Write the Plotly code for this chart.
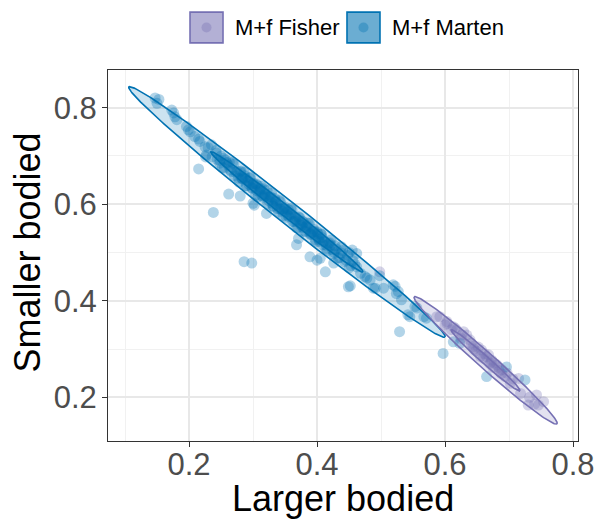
import numpy as np
import plotly.graph_objects as go

# ---------------- data ----------------
groups = ["M+f Fisher", "M+f Marten"]

marten_x = [
    0.147, 0.150, 0.153, 0.173, 0.176, 0.178, 0.181, 0.196, 0.199, 0.202, 0.209, 0.215, 0.217, 0.225, 0.227,
    0.226, 0.235, 0.243, 0.254, 0.248,
    0.215, 0.238, 0.262, 0.286, 0.298,
    0.280, 0.300, 0.321, 0.302, 0.371, 0.368, 0.389, 0.400, 0.405, 0.413, 0.426, 0.449, 0.452,
    0.462, 0.475, 0.478, 0.483, 0.488, 0.491, 0.504, 0.498, 0.519, 0.522, 0.524, 0.527, 0.532, 0.529,
    0.542, 0.545, 0.553, 0.556, 0.567, 0.571, 0.597, 0.613, 0.623, 0.665, 0.696, 0.725,
    0.438, 0.450, 0.455,
    # dense band, pass 1
    0.230, 0.236, 0.242, 0.248, 0.252, 0.257, 0.261, 0.264, 0.268, 0.271, 0.275, 0.278, 0.281, 0.284, 0.287,
    0.290, 0.293, 0.296, 0.299, 0.302, 0.305, 0.308, 0.311, 0.314, 0.317, 0.320, 0.323, 0.326, 0.329, 0.332,
    0.335, 0.338, 0.341, 0.344, 0.347, 0.350, 0.353, 0.356, 0.359, 0.362, 0.365, 0.368, 0.371, 0.374, 0.377,
    0.380, 0.383, 0.386, 0.389, 0.392, 0.395, 0.398, 0.401, 0.404, 0.407, 0.410, 0.414, 0.418, 0.422, 0.426,
    0.430, 0.435, 0.440, 0.445, 0.450, 0.456, 0.462, 0.468,
    # dense band, pass 2
    0.244, 0.250, 0.255, 0.259, 0.263, 0.266, 0.270, 0.273, 0.277, 0.280, 0.283, 0.286, 0.289, 0.292, 0.295,
    0.298, 0.301, 0.304, 0.307, 0.310, 0.313, 0.316, 0.319, 0.322, 0.325, 0.328, 0.331, 0.334, 0.337, 0.340,
    0.343, 0.346, 0.349, 0.352, 0.355, 0.358, 0.361, 0.364, 0.367, 0.370, 0.373, 0.376, 0.379, 0.382, 0.385,
    0.388, 0.391, 0.394, 0.397, 0.400, 0.403, 0.406, 0.409, 0.412, 0.416, 0.420, 0.424, 0.428, 0.433, 0.438,
    0.443, 0.448, 0.453, 0.459,
    # dense band, pass 3
    0.282, 0.288, 0.294, 0.300, 0.306, 0.312, 0.318, 0.324, 0.330, 0.336, 0.342, 0.348, 0.354, 0.360, 0.366,
    0.372, 0.378, 0.384, 0.390, 0.396, 0.402, 0.408, 0.415, 0.421, 0.427,
]
marten_y = [
    0.820, 0.809, 0.817, 0.795, 0.789, 0.781, 0.775, 0.761, 0.754, 0.750, 0.740, 0.735, 0.730, 0.719, 0.702,
    0.698, 0.723, 0.706, 0.695, 0.685,
    0.673, 0.583, 0.621, 0.481, 0.478,
    0.617, 0.602, 0.581, 0.598, 0.529, 0.516, 0.491, 0.484, 0.488, 0.460, 0.478, 0.429, 0.431,
    0.498, 0.450, 0.447, 0.443, 0.426, 0.426, 0.426, 0.452, 0.433, 0.430, 0.415, 0.419, 0.402, 0.336,
    0.371, 0.367, 0.388, 0.385, 0.367, 0.364, 0.291, 0.315, 0.312, 0.243, 0.263, 0.236,
    0.512, 0.500, 0.505,
    0.717, 0.698, 0.711, 0.691, 0.676, 0.692, 0.681, 0.671, 0.686, 0.659, 0.668, 0.646, 0.669, 0.652, 0.659,
    0.638, 0.648, 0.656, 0.633, 0.635, 0.642, 0.616, 0.633, 0.618, 0.632, 0.618, 0.602, 0.615, 0.623, 0.596,
    0.607, 0.591, 0.608, 0.590, 0.576, 0.594, 0.584, 0.575, 0.591, 0.564, 0.573, 0.551, 0.574, 0.558, 0.565,
    0.544, 0.554, 0.561, 0.538, 0.541, 0.548, 0.522, 0.539, 0.523, 0.537, 0.523, 0.507, 0.519, 0.526, 0.497,
    0.507, 0.489, 0.504, 0.484, 0.468, 0.483, 0.470, 0.457,
    0.693, 0.700, 0.675, 0.686, 0.688, 0.668, 0.683, 0.666, 0.654, 0.667, 0.653, 0.666, 0.638, 0.649, 0.654,
    0.634, 0.643, 0.619, 0.639, 0.626, 0.637, 0.614, 0.622, 0.629, 0.607, 0.615, 0.596, 0.612, 0.599, 0.584,
    0.605, 0.586, 0.591, 0.573, 0.589, 0.578, 0.588, 0.564, 0.573, 0.551, 0.572, 0.556, 0.563, 0.544, 0.552,
    0.560, 0.537, 0.544, 0.526, 0.543, 0.527, 0.539, 0.516, 0.523, 0.504, 0.520, 0.506, 0.514, 0.489, 0.499,
    0.481, 0.494, 0.473, 0.476,
    0.655, 0.654, 0.641, 0.642, 0.628, 0.630, 0.617, 0.615, 0.602, 0.605, 0.590, 0.592, 0.577, 0.580, 0.566,
    0.566, 0.552, 0.556, 0.540, 0.543, 0.529, 0.531, 0.515, 0.515, 0.500,
]

fisher_x = [
    0.498, 0.587, 0.592, 0.600, 0.603, 0.603, 0.610, 0.613, 0.616, 0.618, 0.625, 0.626, 0.629, 0.634, 0.639,
    0.641, 0.644, 0.645, 0.652, 0.655, 0.657, 0.662, 0.665, 0.668, 0.670, 0.673, 0.675, 0.677, 0.681, 0.684,
    0.685, 0.689, 0.694, 0.697, 0.702, 0.706, 0.715, 0.718, 0.730, 0.732, 0.740, 0.743, 0.746, 0.754,
    0.648, 0.660, 0.672, 0.688,
]
fisher_y = [
    0.460, 0.367, 0.367, 0.350, 0.357, 0.353, 0.340, 0.346, 0.343, 0.339, 0.322, 0.329, 0.336, 0.329, 0.319,
    0.312, 0.305, 0.300, 0.304, 0.285, 0.298, 0.290, 0.284, 0.288, 0.270, 0.277, 0.262, 0.271, 0.267, 0.262,
    0.255, 0.257, 0.243, 0.250, 0.229, 0.238, 0.239, 0.208, 0.184, 0.200, 0.186, 0.205, 0.184, 0.191,
    0.296, 0.281, 0.273, 0.249,
]

# ellipse parameters (95% level): centre, half major-axis vector, half minor-axis vector (data units)
marten_center = [0.353, 0.584]
marten_major = [0.247, -0.259]
marten_minor = [0.0106, 0.0177]
fisher_center = [0.6635, 0.2765]
fisher_major = [0.1115, -0.1315]
fisher_minor = [0.0083, 0.0124]
levels = [0.95, 0.5]

x_ticks = [0.2, 0.4, 0.6, 0.8]
y_ticks = [0.2, 0.4, 0.6, 0.8]
x_title = "Larger bodied"
y_title = "Smaller bodied"

marten_col = "#0072B2"
fisher_col = "#7570B3"


def ellipse(center, major, minor, level):
    r = np.sqrt(-2 * np.log(1 - level)) / np.sqrt(-2 * np.log(1 - 0.95))
    t = np.linspace(0, 2 * np.pi, 240)
    ex = center[0] + r * (major[0] * np.cos(t) + minor[0] * np.sin(t))
    ey = center[1] + r * (major[1] * np.cos(t) + minor[1] * np.sin(t))
    return ex, ey


def rgba(hexcol, a):
    h = hexcol.lstrip("#")
    return "rgba(%d,%d,%d,%.3f)" % (int(h[0:2], 16), int(h[2:4], 16), int(h[4:6], 16), a)


fig = go.Figure()

fig.add_trace(go.Scatter(x=fisher_x, y=fisher_y, mode="markers", name=groups[0], showlegend=False,
                         marker=dict(size=11, color=rgba(fisher_col, 0.3), line=dict(width=0))))
fig.add_trace(go.Scatter(x=marten_x, y=marten_y, mode="markers", name=groups[1], showlegend=False,
                         marker=dict(size=11, color=rgba(marten_col, 0.3), line=dict(width=0))))

for center, major, minor, col in [(marten_center, marten_major, marten_minor, marten_col),
                                  (fisher_center, fisher_major, fisher_minor, fisher_col)]:
    for lv in levels:
        ex, ey = ellipse(center, major, minor, lv)
        fig.add_trace(go.Scatter(x=ex, y=ey, mode="lines", fill="toself", showlegend=False,
                                 fillcolor=rgba(col, 0.2), line=dict(color=col, width=1.6),
                                 hoverinfo="skip"))

font_family = "Liberation Sans, Arial, sans-serif"

axis_common = dict(
    automargin=False,
    showgrid=True, gridcolor="#E8E8E8", gridwidth=1.5,
    minor=dict(showgrid=True, gridcolor="#F1F1F1", gridwidth=1, dtick=0.1),
    zeroline=False, showline=True, linecolor="#333333", linewidth=1, mirror=True,
    ticks="outside", ticklen=5, tickcolor="#333333", tickwidth=1,
    tickfont=dict(size=31, color="#4D4D4D", family=font_family),
)

fig.update_xaxes(range=[0.0734, 0.8078], tickvals=x_ticks, ticktext=["%.1f" % v for v in x_ticks],
                 ticklabelstandoff=-9, **axis_common)
fig.update_yaxes(range=[0.1095, 0.878], tickvals=y_ticks, ticktext=["%.1f" % v for v in y_ticks],
                 ticklabelstandoff=-1, **axis_common)

# axis titles as annotations (exact placement)
fig.add_annotation(x=0.5, y=-0.155, xref="paper", yref="paper", text=x_title, showarrow=False,
                   xanchor="center", yanchor="middle",
                   font=dict(size=36, color="black", family=font_family))
fig.add_annotation(x=-0.171, y=0.507, xref="paper", yref="paper", text=y_title, showarrow=False,
                   textangle=-90, xanchor="center", yanchor="middle",
                   font=dict(size=36, color="black", family=font_family))

# custom legend (top, horizontal)
legend_items = [(groups[0], fisher_col, 0.55, 0.1745, 0.2447, 0.266),
                (groups[1], marten_col, 0.58, 0.5085, 0.5787, 0.600)]
for name, col, a, x0, x1, xt in legend_items:
    fig.add_shape(type="rect", xref="paper", yref="paper", x0=x0, x1=x1, y0=1.073, y1=1.156,
                  fillcolor=rgba(col, a), line=dict(color=col, width=1.6))
    cx = (x0 + x1) / 2
    fig.add_shape(type="circle", xref="paper", yref="paper", x0=cx - 0.0107, x1=cx + 0.0107,
                  y0=1.1145 - 0.0135, y1=1.1145 + 0.0135,
                  fillcolor=rgba(col, 0.35), line=dict(width=0))
    fig.add_annotation(x=xt, y=1.1145, xref="paper", yref="paper", text=name, showarrow=False,
                       xanchor="left", yanchor="middle",
                       font=dict(size=22, color="black", family=font_family))

fig.update_layout(
    width=603, height=520,
    margin=dict(l=108, r=25, t=70, b=79),
    plot_bgcolor="white", paper_bgcolor="white",
    showlegend=False,
)

fig.write_html("out.html")
